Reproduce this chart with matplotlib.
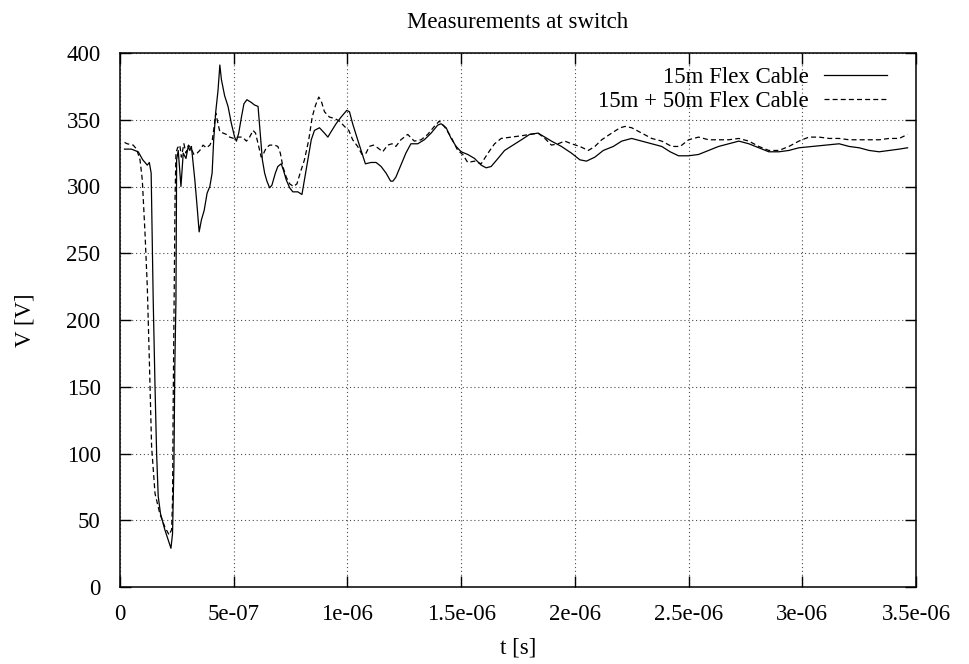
import numpy as np
import matplotlib
matplotlib.use("Agg")
import matplotlib.pyplot as plt
from matplotlib.ticker import FuncFormatter

plt.rcParams['font.family'] = ['Liberation Serif', 'DejaVu Serif']
plt.rcParams['font.size'] = 16.5

title = "Measurements at switch"
label_a = "15m Flex Cable"
label_b = "15m + 50m Flex Cable"

# 15m cable, time in microseconds
t_a = [0.02, 0.05, 0.08, 0.10, 0.12, 0.129, 0.137, 0.146, 0.154, 0.161, 0.168, 0.178,
       0.197, 0.224, 0.231, 0.237, 0.241, 0.246, 0.249, 0.256, 0.268, 0.278, 0.29, 0.30,
       0.307, 0.314, 0.329, 0.339, 0.348, 0.358, 0.37, 0.383, 0.395, 0.405, 0.412, 0.421,
       0.431, 0.439, 0.446, 0.46, 0.475, 0.49, 0.504, 0.512, 0.522, 0.534, 0.545, 0.558,
       0.577, 0.592, 0.607, 0.614, 0.626, 0.636, 0.646, 0.658, 0.668, 0.683, 0.694, 0.709,
       0.719, 0.731, 0.746, 0.76, 0.782, 0.80, 0.811, 0.826, 0.841, 0.855, 0.877, 0.899,
       0.914, 0.928, 0.95, 0.972, 0.997, 1.009, 1.023, 1.045, 1.064, 1.079, 1.104, 1.126,
       1.148, 1.17, 1.19, 1.20, 1.213, 1.235, 1.257, 1.279, 1.309, 1.338, 1.368, 1.397,
       1.412, 1.434, 1.456, 1.478, 1.5, 1.529, 1.559, 1.588, 1.61, 1.632, 1.662, 1.691,
       1.728, 1.765, 1.801, 1.838, 1.868, 1.897, 1.941, 1.985, 2.022, 2.051, 2.088, 2.125,
       2.169, 2.206, 2.25, 2.294, 2.338, 2.382, 2.419, 2.456, 2.5, 2.544, 2.588, 2.632,
       2.676, 2.721, 2.765, 2.809, 2.853, 2.897, 2.941, 2.985, 3.044, 3.103, 3.162, 3.206,
       3.25, 3.294, 3.338, 3.382, 3.426, 3.463]
v_a = [328, 328, 326, 320, 316, 318, 310, 215, 150, 100, 68, 55,
       43, 29, 40, 90, 165, 215, 320, 327, 300, 325, 321, 330,
       327, 330, 305, 285, 266, 275, 282, 295, 300, 310, 335, 356,
       372, 391, 380, 368, 360, 347, 337, 334, 340, 352, 362, 365,
       363, 361, 360, 345, 320, 310, 304, 299, 301, 310, 315, 317,
       312, 305, 299, 296, 296, 294, 305, 320, 335, 342, 344, 340,
       337, 341, 347, 352, 357, 356, 347, 335, 325, 317, 318, 318,
       315, 310, 304, 304, 307, 316, 325, 332, 332, 335, 340, 346,
       347, 344, 336, 330, 326, 324, 321, 316, 314, 315, 321, 327,
       331, 335, 339, 340, 337, 334, 330, 325, 320, 319, 322, 327,
       330, 334, 336, 334, 332, 330, 326, 323, 323, 324, 327, 330,
       332, 334, 332, 329, 326, 326, 327, 329, 330, 331, 332, 330,
       329, 327, 326, 327, 328, 329]

# 15m + 50m cable
t_b = [0.02, 0.032, 0.058, 0.073, 0.088, 0.098, 0.11, 0.12, 0.129, 0.139, 0.154, 0.175,
       0.197, 0.216, 0.227, 0.231, 0.234, 0.238, 0.242, 0.246, 0.253, 0.263, 0.27, 0.281,
       0.29, 0.301, 0.311, 0.325, 0.339, 0.351, 0.365, 0.38, 0.395, 0.406, 0.414, 0.421,
       0.431, 0.439, 0.453, 0.468, 0.482, 0.5, 0.519, 0.538, 0.556, 0.57, 0.585, 0.596,
       0.61, 0.621, 0.632, 0.643, 0.658, 0.68, 0.694, 0.705, 0.716, 0.731, 0.746, 0.763,
       0.778, 0.792, 0.811, 0.83, 0.845, 0.86, 0.874, 0.885, 0.899, 0.921, 0.943, 0.965,
       0.987, 1.006, 1.023, 1.045, 1.064, 1.082, 1.096, 1.114, 1.133, 1.155, 1.177, 1.196,
       1.213, 1.235, 1.265, 1.294, 1.324, 1.353, 1.382, 1.404, 1.426, 1.456, 1.485, 1.507,
       1.529, 1.559, 1.588, 1.618, 1.647, 1.676, 1.721, 1.765, 1.801, 1.838, 1.868, 1.897,
       1.926, 1.956, 1.985, 2.022, 2.059, 2.088, 2.118, 2.162, 2.199, 2.221, 2.25, 2.294,
       2.338, 2.382, 2.426, 2.463, 2.5, 2.544, 2.588, 2.632, 2.676, 2.721, 2.765, 2.809,
       2.853, 2.897, 2.941, 2.985, 3.029, 3.074, 3.118, 3.162, 3.206, 3.25, 3.294, 3.338,
       3.382, 3.426, 3.463]
v_b = [333, 332, 331, 328, 320, 305, 265, 225, 170, 105, 70, 55,
       45, 39, 43, 65, 140, 215, 290, 325, 329, 331, 322, 332,
       325, 331, 329, 324, 325, 327, 331, 329, 331, 335, 345, 355,
       347, 341, 340, 339, 337, 336, 337, 337, 334, 337, 342, 340,
       330, 322, 325, 329, 331, 331, 330, 325, 315, 307, 302, 300,
       302, 310, 320, 335, 352, 361, 367, 364, 356, 352, 351, 349,
       345, 342, 335, 330, 324, 325, 330, 331, 329, 326, 331, 332,
       330, 335, 339, 334, 335, 339, 345, 349, 345, 337, 327, 324,
       318, 319, 317, 325, 332, 336, 337, 338, 339, 340, 336, 331,
       332, 334, 332, 330, 327, 330, 335, 340, 344, 345, 344, 340,
       336, 334, 330, 330, 335, 337, 335, 335, 335, 336, 334, 330,
       327, 327, 330, 334, 337, 337, 336, 336, 335, 335, 335, 335,
       336, 336, 339]

xticks = [0, 0.5e-6, 1e-6, 1.5e-6, 2e-6, 2.5e-6, 3e-6, 3.5e-6]
yticks = [0, 50, 100, 150, 200, 250, 300, 350, 400]

fig = plt.figure(figsize=(9.7, 6.64), dpi=100)
ax = fig.add_axes([120/970, 1 - 587/664, 796/970, 534/664])

ax.plot(np.array(t_a)*1e-6, v_a, color='black', lw=0.9, label=label_a)
ax.plot(np.array(t_b)*1e-6, v_b, color='black', lw=0.9, dashes=(4, 2.5), label=label_b)

ax.set_xlim(0, 3.5e-6)
ax.set_ylim(0, 400)
ax.set_xticks(xticks)
ax.set_yticks(yticks)
ax.xaxis.set_major_formatter(FuncFormatter(lambda v, p: '%g' % v))
ax.tick_params(direction='in', length=8, width=1, top=True, right=True, labelsize=16.5)
ax.tick_params(axis='x', pad=12)
ax.tick_params(axis='y', pad=14)
for s in ax.spines.values():
    s.set_linewidth(1.1)
ax.grid(True, color='0.3', linestyle=(0, (1, 2.5)), linewidth=0.8)

ax.set_xlabel("t [s]", labelpad=9)
ax.set_ylabel("V [V]", labelpad=22)
ax.set_title(title, fontsize=16.5, pad=18)

leg = ax.legend(loc='upper right', bbox_to_anchor=(0.9636, 0.973), frameon=False,
                markerfirst=False, handlelength=2.75, handletextpad=0.68,
                labelspacing=0.12, borderpad=0, borderaxespad=0)

fig.savefig("out.png", dpi=100)
